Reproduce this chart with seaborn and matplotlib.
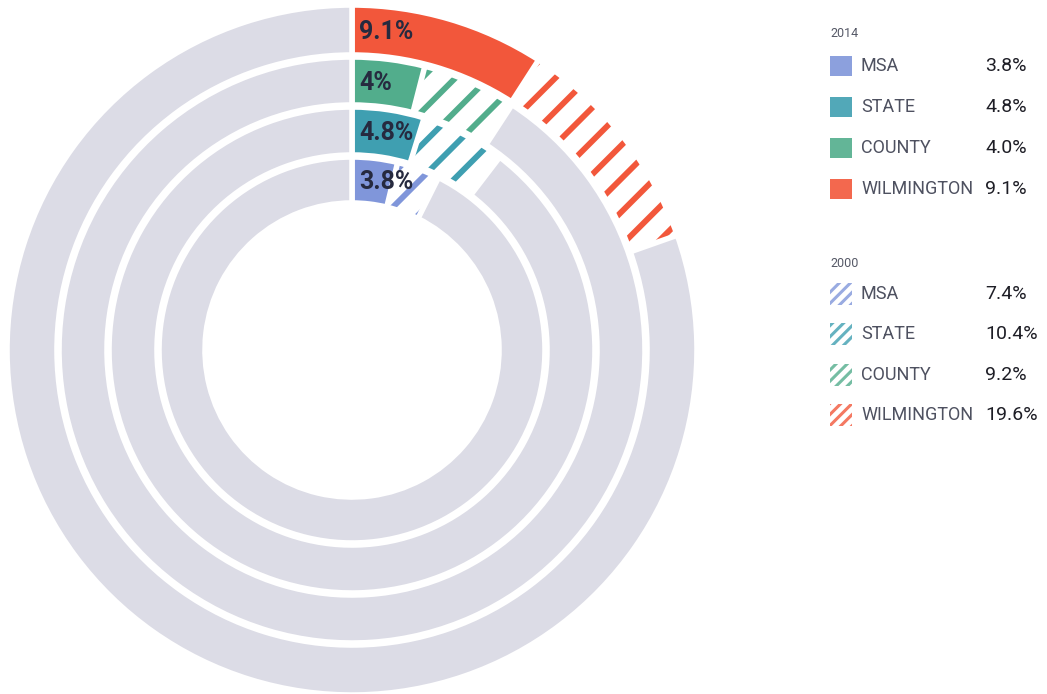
import matplotlib
matplotlib.use("Agg")
import matplotlib.pyplot as plt
from matplotlib.patches import Rectangle
import seaborn as sns

# rings, outer to inner
rings = ["WILMINGTON", "COUNTY", "STATE", "MSA"]
pct_2014 = [9.1, 4.0, 4.8, 3.8]
pct_2000 = [19.6, 9.2, 10.4, 7.4]
ring_labels = ["9.1%", "4%", "4.8%", "3.8%"]
ring_colors = ["#f2573b", "#52ad8c", "#3f9fb1", "#8096da"]
grey = "#dcdce6"

# legend, top to bottom
legend_names = ["MSA", "STATE", "COUNTY", "WILMINGTON"]

sns.set_theme(style="white")
plt.rcParams["font.family"] = ["Roboto", "DejaVu Sans"]
plt.rcParams["hatch.linewidth"] = 4.2

fig = plt.figure(figsize=(10.47, 6.94), dpi=100)
ax = fig.add_axes([0, 0, 1, 1])

cx, cy = 352, 344
outer = [345, 293, 243, 193]
width = [50, 48, 48, 46]
edge_px = 2.8

for i, name in enumerate(rings):
    sizes = [pct_2014[i], pct_2000[i] - pct_2014[i], 100 - pct_2000[i]]
    wedges, _ = ax.pie(sizes, colors=[ring_colors[i], "white", grey],
                       startangle=90, counterclock=False, radius=outer[i],
                       center=(cx, cy),
                       wedgeprops=dict(width=width[i], edgecolor="white", linewidth=4))
    hw = wedges[1]
    hw.set_hatch("/")
    hw.set_edgecolor(ring_colors[i])
    hw.set_linewidth(0)
    hw.set_radius(outer[i] - edge_px)
    hw.set_width(width[i] - 2 * edge_px)
    hw.set_zorder(0.5)
    r_mid = outer[i] - width[i] / 2
    ax.text(cx + 7, cy + r_mid - 2, ring_labels[i], ha="left", va="center",
            fontsize=18, fontweight="bold", color="#262a3f", zorder=3)

# legend
H = 694
def legend_block(title, title_y, row_ys, values, hatched):
    ax.text(830, H - title_y, title, fontsize=9, color="#555866", ha="left", va="center")
    for name, y, v in zip(legend_names, row_ys, values):
        c = ring_colors[rings.index(name)]
        if hatched:
            p = Rectangle((830, H - y - 11), 22, 22, facecolor="white", edgecolor=c,
                          linewidth=0, hatch="///", alpha=0.8)
            if hasattr(p, "set_hatch_linewidth"):
                p.set_hatch_linewidth(2.2)
        else:
            p = Rectangle((830, H - y - 10), 22, 20, facecolor=c, edgecolor="none", alpha=0.9)
        ax.add_patch(p)
        ax.text(861, H - y, name, fontsize=13, color="#4e5160", ha="left", va="center")
        ax.text(985, H - y, f"{v:.1f}%", fontsize=14, color="#1e1e26", ha="left", va="center")

legend_block("2014", 33, [66, 107, 148, 189],
             [pct_2014[rings.index(n)] for n in legend_names], False)
legend_block("2000", 263, [294, 334, 375, 415],
             [pct_2000[rings.index(n)] for n in legend_names], True)

ax.set_xlim(0, 1047)
ax.set_ylim(0, 694)
ax.set_aspect("auto")
ax.axis("off")
fig.savefig("out.png", dpi=100, facecolor="white")
